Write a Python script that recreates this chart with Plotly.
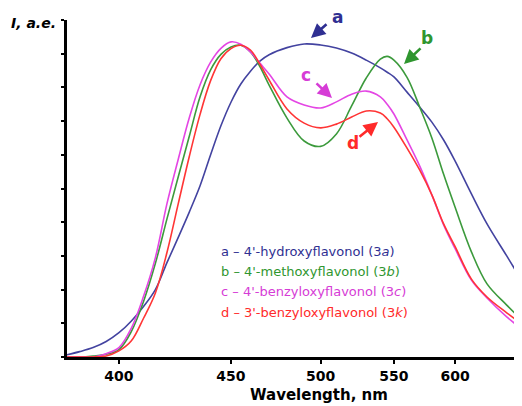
import plotly.graph_objects as go

# ---- data ----
wavelength_nm = [380, 385, 390, 395, 400, 405, 410, 415, 420, 425, 430, 435, 440, 445,
                 450, 455, 460, 465, 470, 480, 490, 500, 510, 520, 530, 540, 545, 550, 560,
                 570, 580, 590, 600, 615, 630, 650, 665]

int_a = [0.06, 0.16, 0.28, 0.46, 0.72, 1.07, 1.50, 2.00, 2.80, 3.55, 4.30, 5.08, 6.00, 6.86,
         7.56, 8.10, 8.48, 8.78, 8.97, 9.18, 9.29, 9.26, 9.17, 9.02, 8.81, 8.58, 8.45, 8.31, 7.86,
         7.42, 6.97, 6.44, 5.82, 4.84, 3.95, 3.00, 2.31]
int_b = [0.0, 0.0, 0.03, 0.08, 0.22, 0.76, 1.65, 2.78, 4.10, 5.35, 6.55, 7.72, 8.52, 8.98,
         9.20, 9.25, 9.05, 8.62, 8.07, 7.09, 6.41, 6.25, 6.62, 7.45, 8.28, 8.84, 8.92, 8.81, 8.30,
         7.42, 6.50, 5.42, 4.45, 3.12, 2.17, 1.54, 1.13]
int_c = [0.0, 0.0, 0.0, 0.10, 0.28, 0.86, 1.80, 2.95, 4.55, 5.87, 7.10, 8.08, 8.75, 9.16,
         9.35, 9.28, 9.05, 8.72, 8.40, 7.72, 7.48, 7.39, 7.57, 7.80, 7.89, 7.72, 7.50, 7.21, 6.44,
         5.67, 4.81, 3.92, 3.22, 2.28, 1.75, 1.19, 0.86]
int_d = [0.0, 0.0, 0.0, 0.03, 0.18, 0.48, 1.15, 1.90, 3.10, 4.55, 5.95, 7.20, 8.20, 8.85,
         9.15, 9.25, 9.11, 8.69, 8.22, 7.36, 6.94, 6.80, 6.91, 7.12, 7.30, 7.24, 7.07, 6.82, 6.20,
         5.55, 4.81, 3.95, 3.28, 2.31, 1.78, 1.31, 1.00]

tick_nm = [400, 450, 500, 550, 600]
x_range_nm = [380.4, 666.4]

series_names = ["a", "b", "c", "d"]
series_labels = ["a \u2013 4'-hydroxyflavonol (3<i>a</i>)",
                 "b \u2013 4'-methoxyflavonol (3<i>b</i>)",
                 "c \u2013 4'-benzyloxyflavonol (3<i>c</i>)",
                 "d \u2013 3'-benzyloxyflavonol (3<i>k</i>)"]
line_colors = ["#4343a0", "#3c9a3c", "#e446e4", "#ff3535"]
text_colors = ["#2f2f92", "#2f962f", "#d63cd6", "#ff2a2a"]

# axis is linear in energy (wavenumber), labelled in nm
def wn(nm):
    return 1e7 / nm

x_wn = [wn(w) for w in wavelength_nm]

fig = go.Figure()
for name, ys, col in zip(series_names, [int_a, int_b, int_c, int_d], line_colors):
    fig.add_trace(go.Scatter(x=x_wn, y=ys, mode="lines", name=name,
                             line=dict(color=col, width=1.6, shape="spline", smoothing=1.0),
                             showlegend=False, cliponaxis=True))

FONT = "DejaVu Sans, Liberation Sans, Arial, sans-serif"

# page body has an 8px margin: figure is sized/placed to compensate
fig.update_layout(
    width=514, height=398,
    margin=dict(l=59, r=0, t=12, b=49),
    paper_bgcolor="white", plot_bgcolor="white",
    font=dict(family=FONT, color="black"),
    xaxis=dict(range=[wn(x_range_nm[0]), wn(x_range_nm[1])],
               tickvals=[wn(t) for t in tick_nm], ticktext=[str(t) for t in tick_nm],
               tickfont=dict(size=14, family=FONT, weight="bold", color="black"),
               ticks="outside", ticklen=4, tickwidth=2, tickcolor="black",
               showline=True, linewidth=2.5, linecolor="black",
               showgrid=False, zeroline=False, ticklabelstandoff=0),
    yaxis=dict(range=[0, 10], dtick=1, tick0=0, showticklabels=False,
               ticks="outside", ticklen=3, tickwidth=2, tickcolor="black",
               showline=True, linewidth=2.5, linecolor="black",
               showgrid=False, zeroline=False),
)

def px(xp):
    return (xp - 67) / 455.0

def py(yp):
    return (357 - yp) / 337.0

ann = []
# axis titles
ann.append(dict(text="<b>Wavelength, nm</b>", x=px(319), y=py(395), xref="paper", yref="paper",
                xanchor="center", yanchor="middle", showarrow=False,
                font=dict(size=15, family=FONT, color="black")))
ann.append(dict(text="<b><i>I, a.e.</i></b>", x=px(33), y=py(23), xref="paper", yref="paper",
                xanchor="center", yanchor="middle", showarrow=False,
                font=dict(size=14, family=FONT, color="black")))

# arrows: head position (px), tail offset (pixels)
arrow_heads = [(311, 38, 17, -15), (404, 64, 18, -17), (332, 98, -17, -16), (378, 122, -20, 16)]
letter_pos = [(337, 17), (427, 38), (306, 75), (353, 143)]
for (hx, hy, axp, ayp), (lx, ly), name, col in zip(arrow_heads, letter_pos, series_names, text_colors):
    ann.append(dict(text="", x=px(hx), y=py(hy), xref="paper", yref="paper",
                    ax=axp, ay=ayp, showarrow=True, arrowhead=2, arrowsize=1.1,
                    arrowwidth=2.6, arrowcolor=col, standoff=0, startstandoff=0))
    ann.append(dict(text="<b>%s</b>" % name, x=px(lx), y=py(ly), xref="paper", yref="paper",
                    xanchor="center", yanchor="middle", showarrow=False,
                    font=dict(size=17, family=FONT, color=col)))

# legend text lines
legend_y = [251, 271, 291, 312]
for lab, yy, col in zip(series_labels, legend_y, text_colors):
    ann.append(dict(text=lab, x=px(219), y=py(yy), xref="paper", yref="paper",
                    xanchor="left", yanchor="middle", showarrow=False,
                    font=dict(size=13, family=FONT, color=col)))

fig.update_layout(annotations=ann)
fig.write_html("out.html")
